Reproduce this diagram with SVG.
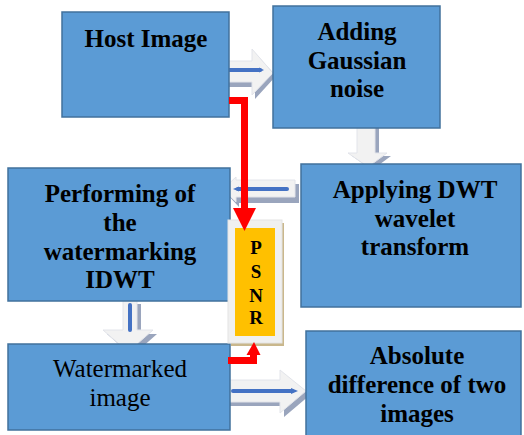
<svg xmlns="http://www.w3.org/2000/svg" width="524" height="435" viewBox="0 0 524 435">
  <style>
    .box { fill: #5B9BD5; stroke: #41719C; stroke-width: 1.5; }
    .barrow { fill: #F2F2F2; stroke: #E2E4EA; stroke-width: 1; }
    .bshadow { fill: #9AA5BD; }
    .bline { stroke: #4472C4; stroke-width: 4; stroke-linecap: round; fill: none; }
    .red { stroke: #FF0000; stroke-width: 7; fill: none; }
    .redhead { fill: #FF0000; }
  </style>

  <!-- block arrows between the steps -->
  <g id="connectors">
    <!-- Host Image -> Adding Gaussian noise -->
    <polygon class="bshadow" points="224,64 255,64 255,53 276,76 255,99 255,87 224,87"/>
    <polygon class="barrow" points="221,61 252,61 252,49 273,73 252,95 252,82 221,82"/>
    <path class="bline" d="M228,70 H260"/>
    <polygon fill="#4472C4" points="259,67.5 264,70 259,72.5"/>

    <!-- Adding Gaussian noise -> Applying DWT -->
    <polygon class="bshadow" points="361,128 379,128 379,156 391,156 372,170 352,156 361,156"/>
    <polygon class="barrow" points="357,125 375,125 375,153 387,153 368,167 348,153 357,153"/>

    <!-- Applying DWT -> Performing -->
    <polygon class="bshadow" points="299,184 299,203 239,203 239,207 226,193 239,181 239,184"/>
    <polygon class="barrow" points="295,180 295,197 236,197 236,202 223,189 236,177 236,180"/>
    <path class="bline" d="M287,189 H238"/>
    <polygon fill="#4472C4" points="239,186.5 233,189 239,191.5"/>

    <!-- Performing -> Watermarked image -->
    <polygon class="bshadow" points="127,304 141,304 141,334 157,334 132,356 107,334 127,334"/>
    <polygon class="barrow" points="123,300 137,300 137,330 153,330 128,352 103,330 123,330"/>
    <path class="bline" d="M130,305 V330"/>

    <!-- Watermarked image -> Absolute difference -->
    <polygon class="bshadow" points="228,384 284,384 284,374 310,395 284,417 284,406 228,406"/>
    <polygon class="barrow" points="224,380 280,380 280,370 306,391 280,413 280,402 224,402"/>
    <path class="bline" d="M233,391 H292"/>
    <polygon fill="#4472C4" points="291,388 298,391 291,394"/>
  </g>

  <g font-family="Liberation Serif, Times New Roman, serif" font-size="25" font-weight="bold" text-anchor="middle" fill="#000">
    <g id="host-image">
      <rect class="box" x="62" y="12" width="167" height="105"/>
      <text x="146" y="47">Host Image</text>
    </g>

    <g id="adding-noise">
      <rect class="box" x="273" y="6" width="167" height="122"/>
      <text x="357" y="40">Adding</text>
      <text x="357" y="69">Gaussian</text>
      <text x="357" y="97">noise</text>
    </g>

    <g id="applying-dwt">
      <rect class="box" x="301" y="164" width="220" height="143"/>
      <text x="415" y="198">Applying DWT</text>
      <text x="415" y="227">wavelet</text>
      <text x="415" y="255">transform</text>
    </g>

    <g id="performing">
      <rect class="box" x="8" y="168" width="222" height="133"/>
      <text x="120" y="202">Performing of</text>
      <text x="120" y="231">the</text>
      <text x="120" y="260">watermarking</text>
      <text x="120" y="288">IDWT</text>
    </g>

    <g id="watermarked">
      <rect class="box" x="8" y="344" width="222" height="86"/>
      <text x="120" y="377" font-weight="normal">Watermarked</text>
      <text x="120" y="406" font-weight="normal">image</text>
    </g>

    <g id="absolute-difference">
      <rect class="box" x="306" y="331" width="215" height="110"/>
      <text x="417" y="364">Absolute</text>
      <text x="417" y="393">difference of two</text>
      <text x="417" y="422">images</text>
    </g>

    <g id="psnr" font-size="19">
      <rect x="231" y="223" width="53" height="123" fill="#C9B78C"/>
      <rect x="228" y="220" width="54" height="123" fill="#F0F0F0" stroke="#E4E4E4" stroke-width="1"/>
      <rect x="235" y="228" width="40" height="108" fill="#FFC000"/>
      <text x="256" y="254">P</text>
      <text x="256" y="278">S</text>
      <text x="256" y="302">N</text>
      <text x="256" y="324">R</text>
    </g>
  </g>

  <!-- red links into PSNR -->
  <g id="psnr-links">
    <path class="red" d="M229,100.5 H244.5 V210"/>
    <polygon class="redhead" points="233,208 256,208 244.5,231"/>
    <path class="red" d="M228,360.5 H253.5 V353"/>
    <polygon class="redhead" points="246.5,355 260.5,355 254,342"/>
  </g>
</svg>
